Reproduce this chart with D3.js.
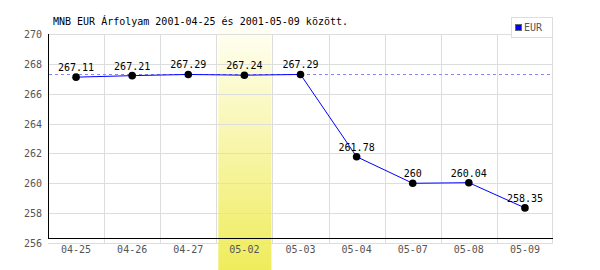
<!DOCTYPE html>
<html>
<head>
<meta charset="utf-8">
<script src="https://cdn.jsdelivr.net/npm/d3@7"></script>
<style>
  body { margin: 0; background: #fff; }
  text { font-family: "DejaVu Sans Mono", monospace; font-size: 10px; }
</style>
</head>
<body>
<svg id="chart" width="600" height="270"></svg>
<script>
"use strict";

// Data
var title = "MNB EUR Árfolyam 2001-04-25 és 2001-05-09 között.";
var dates = ["04-25", "04-26", "04-27", "05-02", "05-03", "05-04", "05-07", "05-08", "05-09"];
var eur = [267.11, 267.21, 267.29, 267.24, 267.29, 261.78, 260, 260.04, 258.35];
var yTicks = [256, 258, 260, 262, 264, 266, 268, 270];
var highlight = "05-02";
var seriesName = "EUR";

var svg = d3.select("#chart");
var plotLeft = 48, plotRight = 553, plotTop = 34, plotBottom = 243, axisY = 238;

var x = d3.scaleBand().domain(dates).range([plotLeft, plotRight]);
var y = d3.scaleLinear().domain([256, 270]).range([plotBottom, plotTop]);

// highlight band gradient
var grad = svg.append("defs").append("linearGradient")
  .attr("id", "hl").attr("x1", 0).attr("y1", 0).attr("x2", 0).attr("y2", 1);
grad.append("stop").attr("offset", "0%").attr("stop-color", "#fffff4");
grad.append("stop").attr("offset", "100%").attr("stop-color", "#efec5c");

svg.append("rect")
  .attr("x", x(highlight) + 2)
  .attr("y", 27)
  .attr("width", x.bandwidth() - 3)
  .attr("height", 270 - 27)
  .attr("fill", "url(#hl)");

// grid
svg.append("g").selectAll("line").data(yTicks).join("line")
  .attr("x1", plotLeft).attr("x2", plotRight)
  .attr("y1", d => Math.round(y(d)) + 0.5).attr("y2", d => Math.round(y(d)) + 0.5)
  .attr("stroke", "#dddddd");

svg.append("g").selectAll("line").data(dates.slice(1).concat(["end"])).join("line")
  .attr("x1", d => d == "end" ? plotRight - 0.5 : Math.round(x(d)) + 0.5)
  .attr("x2", d => d == "end" ? plotRight - 0.5 : Math.round(x(d)) + 0.5)
  .attr("y1", plotTop).attr("y2", plotBottom)
  .attr("stroke", "#dddddd");

// axes lines
svg.append("line").attr("x1", plotLeft + 0.5).attr("x2", plotLeft + 0.5)
  .attr("y1", plotTop).attr("y2", axisY + 1).attr("stroke", "#000");
svg.append("line").attr("x1", plotLeft).attr("x2", plotRight)
  .attr("y1", axisY + 0.5).attr("y2", axisY + 0.5).attr("stroke", "#000");

// y labels
svg.append("g").selectAll("text").data(yTicks).join("text")
  .attr("x", 42).attr("y", d => y(d) + 4)
  .attr("text-anchor", "end").attr("fill", "#555")
  .text(d => d);

// x labels
svg.append("g").selectAll("text").data(dates).join("text")
  .attr("x", d => x(d) + x.bandwidth() / 2).attr("y", 253)
  .attr("text-anchor", "middle").attr("fill", "#555")
  .text(d => d);

// max dashed line
var maxV = d3.max(eur);
svg.append("line").attr("x1", plotLeft + 1).attr("x2", plotRight - 1)
  .attr("y1", Math.round(y(maxV)) + 0.5).attr("y2", Math.round(y(maxV)) + 0.5)
  .attr("stroke", "#8888ee").attr("stroke-dasharray", "3,3");

// series
var pts = dates.map((d, i) => [x(d) + x.bandwidth() / 2, y(eur[i])]);
svg.append("path").attr("d", d3.line()(pts))
  .attr("fill", "none").attr("stroke", "#0000ff").attr("stroke-width", 1);

svg.append("g").selectAll("circle").data(pts).join("circle")
  .attr("cx", d => d[0]).attr("cy", d => d[1]).attr("r", 3.8).attr("fill", "#000");

svg.append("g").selectAll("text").data(pts).join("text")
  .attr("x", d => d[0]).attr("y", d => d[1] - 6)
  .attr("text-anchor", "middle").attr("fill", "#000")
  .text((d, i) => eur[i]);

// title
svg.append("text").attr("x", 53).attr("y", 25).attr("fill", "#000").text(title);

// legend
svg.append("rect").attr("x", 511.5).attr("y", 17.5).attr("width", 41).attr("height", 20)
  .attr("fill", "#fff").attr("stroke", "#dddddd");
svg.append("rect").attr("x", 515.5).attr("y", 24.5).attr("width", 6).attr("height", 6)
  .attr("fill", "#0000ff").attr("stroke", "#666");
svg.append("text").attr("x", 524).attr("y", 31).attr("fill", "#555").text(seriesName);
</script>
</body>
</html>
